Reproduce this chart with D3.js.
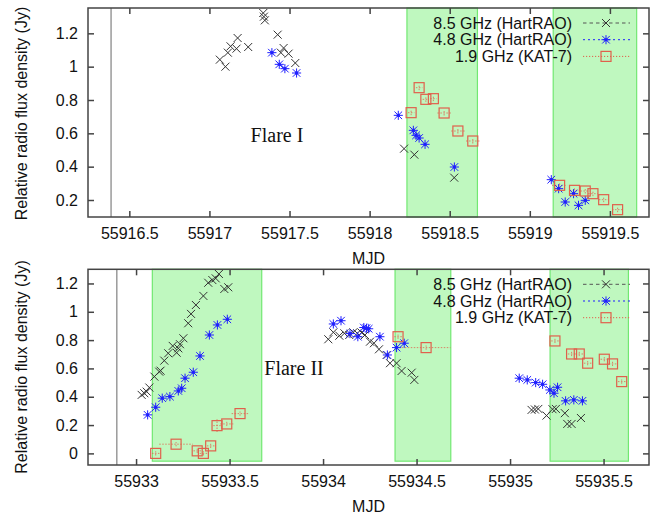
<!DOCTYPE html>
<html><head><meta charset="utf-8">
<script src="https://cdn.jsdelivr.net/npm/d3@7"></script>
<style>body{margin:0;background:#fff}svg{display:block}</style>
</head><body>
<svg id="chart" width="659" height="515"></svg>
<script>
// ---------- DATA ----------
const seriesNames = ["8.5 GHz (HartRAO)", "4.8 GHz (HartRAO)", "1.9 GHz (KAT-7)"];

// Flare I (top panel): [MJD, flux]
const flare1_85 = [[55917.065,1.042],[55917.10,1.0],[55917.115,1.084],[55917.132,1.122],[55917.169,1.108],[55917.176,1.172],[55917.242,1.118],[55917.336,1.322],[55917.34,1.30],[55917.346,1.278],[55917.426,1.192],[55917.446,1.084],[55917.463,1.112],[55917.494,1.078],[55917.536,1.022],[55918.215,0.508],[55918.279,0.472],[55918.528,0.334]];
const flare1_48 = [[55917.39,1.084],[55917.436,1.014],[55917.471,0.988],[55917.544,0.962],[55918.179,0.708],[55918.273,0.618],[55918.29,0.588],[55918.309,0.572],[55918.346,0.534],[55918.529,0.398],[55919.134,0.322],[55919.18,0.268],[55919.221,0.188],[55919.273,0.238],[55919.304,0.168],[55919.346,0.198]];
const flare1_19 = [[55918.259,0.724],[55918.309,0.874],[55918.351,0.804],[55918.398,0.808],[55918.465,0.722],[55918.551,0.614],[55918.644,0.554],[55919.186,0.288],[55919.279,0.258],[55919.346,0.254],[55919.394,0.238],[55919.461,0.202],[55919.548,0.142]];
const flare1_19_xerr = [0.02,0.02,0.02,0.02,0.042,0.042,0.042,0.047,0.03,0.03,0.03,0.03,0.035];

// Flare II (bottom panel)
const flare2_85 = [[55933.030,0.413],[55933.044,0.425],[55933.057,0.436],[55933.071,0.465],[55933.098,0.542],[55933.124,0.577],[55933.131,0.584],[55933.151,0.655],[55933.172,0.707],[55933.196,0.759],[55933.217,0.711],[55933.226,0.742],[55933.235,0.771],[55933.253,0.813],[55933.279,0.919],[55933.294,0.985],[55933.320,1.048],[55933.360,1.112],[55933.386,1.205],[55933.408,1.224],[55933.426,1.236],[55933.443,1.267],[55933.472,1.161],[55933.493,1.173],
  [55934.028,0.806],[55934.055,0.855],[55934.087,0.831],[55934.114,0.848],[55934.140,0.836],[55934.162,0.855],[55934.183,0.848],[55934.206,0.853],[55934.224,0.836],[55934.251,0.789],[55934.272,0.778],[55934.299,0.735],[55934.340,0.695],[55934.358,0.637],[55934.393,0.637],[55934.420,0.582],[55934.474,0.570],[55934.488,0.519],
  [55935.115,0.307],[55935.133,0.310],[55935.151,0.314],[55935.195,0.267],[55935.227,0.312],[55935.245,0.314],[55935.293,0.284],[55935.306,0.208],[55935.329,0.208],[55935.379,0.250]];
const flare2_48 = [[55933.062,0.272],[55933.105,0.326],[55933.140,0.390],[55933.181,0.401],[55933.226,0.441],[55933.244,0.460],[55933.262,0.531],[55933.306,0.573],[55933.342,0.688],[55933.392,0.836],[55933.435,0.907],[55933.488,0.947],
  [55934.055,0.914],[55934.096,0.937],[55934.144,0.846],[55934.186,0.824],[55934.218,0.889],[55934.232,0.884],[55934.244,0.880],[55934.304,0.824],[55934.344,0.695],[55934.393,0.747],[55934.434,0.778],
  [55935.049,0.531],[55935.092,0.519],[55935.137,0.500],[55935.174,0.488],[55935.213,0.448],[55935.235,0.425],[55935.254,0.467],[55935.297,0.371],[55935.341,0.378],[55935.387,0.371]];
const flare2_19 = [[55933.105,0.0],[55933.214,0.065],[55933.327,0.018],[55933.360,0.0],[55933.399,0.053],[55933.433,0.196],[55933.485,0.208],[55933.556,0.281],
  [55934.401,0.824],[55934.551,0.747],
  [55935.240,0.794],[55935.329,0.702],[55935.370,0.702],[55935.415,0.637],[55935.504,0.665],[55935.548,0.632],[55935.597,0.507]];
const flare2_19_xerr = [0.02,0.09,0.02,0.02,0.02,0.02,0.035,0.045,0.02,0.13,0.02,0.02,0.02,0.02,0.02,0.02,0.02];
const flare2_19_yerr = [0.015,0.015,0.015,0.015,0.015,0.045,0.015,0.015,0.015,0.015,0.015,0.015,0.015,0.015,0.015,0.015,0.015];

// shaded intervals and marker lines
const flare1Bands = [[55918.233,55918.673],[55919.146,55919.667]];
const flare2Bands = [[55933.087,55933.672],[55934.385,55934.683],[55935.214,55935.633]];
const flare1Marker = 55916.386;
const flare2Marker = 55932.897;

// axes
const flare1XDomain = [55916.242, 55919.744];
const flare1YDomain = [0.098, 1.352];
const flare2XDomain = [55932.743, 55935.743];
const flare2YDomain = [-0.082, 1.30];
const flare1XTicks = [55916.5,55917,55917.5,55918,55918.5,55919,55919.5];
const flare1YTicks = [0.2,0.4,0.6,0.8,1,1.2];
const flare2XTicks = [55933,55933.5,55934,55934.5,55935,55935.5];
const flare2YTicks = [0,0.2,0.4,0.6,0.8,1,1.2];

// ---------- DRAW ----------
const svg = d3.select("#chart");
const FONT = "'Liberation Sans', Arial, Helvetica, sans-serif";
const C85 = "#333333", C48 = "#1f1fff", C19 = "#e0604c";

function drawCross(g, x, y, s, color) {
  g.append("path").attr("d", `M${x-s},${y-s}L${x+s},${y+s}M${x-s},${y+s}L${x+s},${y-s}`)
    .attr("stroke", color).attr("stroke-width", 1).attr("fill", "none");
}
function drawStar(g, x, y, s, color) {
  g.append("path").attr("d", `M${x-s},${y-s}L${x+s},${y+s}M${x-s},${y+s}L${x+s},${y-s}M${x-s*1.2},${y}L${x+s*1.2},${y}M${x},${y-s*1.2}L${x},${y+s*1.2}`)
    .attr("stroke", color).attr("stroke-width", 1).attr("fill", "none");
  g.append("rect").attr("x", x-1.5).attr("y", y-1.5).attr("width", 3).attr("height", 3).attr("fill", color);
}
function drawSquare(g, x, y, s, color) {
  g.append("rect").attr("x", x-s).attr("y", y-s).attr("width", 2*s).attr("height", 2*s)
    .attr("stroke", color).attr("stroke-width", 1.2).attr("fill", "none");
}

function panel(cfg) {
  const x = d3.scaleLinear().domain(cfg.xDomain).range([cfg.left, cfg.right]);
  const y = d3.scaleLinear().domain(cfg.yDomain).range([cfg.bottom, cfg.top]);
  const g = svg.append("g");

  // bands
  cfg.bands.forEach(b => {
    const y0 = y(Math.max(cfg.bandLow, cfg.yDomain[0]));
    g.append("rect").attr("x", x(b[0])).attr("y", cfg.top)
      .attr("width", x(b[1]) - x(b[0])).attr("height", y0 - cfg.top)
      .attr("fill", "#bff8bf").attr("stroke", "#72e872").attr("stroke-width", 1.2);
  });
  // marker line
  g.append("line").attr("x1", x(cfg.marker)).attr("x2", x(cfg.marker))
    .attr("y1", cfg.top).attr("y2", cfg.bottom).attr("stroke", "#9a9a9a").attr("stroke-width", 1.5);

  // red error bars
  cfg.d19.forEach((d, i) => {
    const xe = cfg.xerr[i], ye = cfg.yerr ? cfg.yerr[i] : 0.015;
    g.append("line").attr("x1", x(d[0]-xe)).attr("x2", x(d[0]+xe)).attr("y1", y(d[1])).attr("y2", y(d[1]))
      .attr("stroke", C19).attr("stroke-width", 1).attr("stroke-dasharray", "1.5,1.5").attr("opacity", 0.75);
    g.append("line").attr("x1", x(d[0])).attr("x2", x(d[0])).attr("y1", y(d[1]-ye)).attr("y2", y(d[1]+ye))
      .attr("stroke", C19).attr("stroke-width", 1).attr("stroke-dasharray", "1.5,1.5").attr("opacity", 0.75);
  });
  cfg.d85.forEach(d => drawCross(g, x(d[0]), y(d[1]), 4, C85));
  cfg.d48.forEach(d => drawStar(g, x(d[0]), y(d[1]), 3.8, C48));
  cfg.d19.forEach(d => drawSquare(g, x(d[0]), y(d[1]), 5, C19));

  // frame
  g.append("rect").attr("x", cfg.left).attr("y", cfg.top).attr("width", cfg.right - cfg.left)
    .attr("height", cfg.bottom - cfg.top).attr("fill", "none").attr("stroke", "#444").attr("stroke-width", 1.5);

  const styleAxis = sel => {
    sel.select(".domain").remove();
    sel.selectAll(".tick line").attr("stroke", "#444").attr("stroke-width", 1.5);
    sel.selectAll("text").attr("font-family", FONT).attr("font-size", 16).attr("fill", "#111");
  };
  g.append("g").attr("transform", `translate(0,${cfg.bottom})`)
    .call(d3.axisBottom(x).tickValues(cfg.xTicks).tickSize(-6).tickPadding(11).tickFormat(d => String(d))).call(styleAxis);
  g.append("g").attr("transform", `translate(0,${cfg.top})`)
    .call(d3.axisTop(x).tickValues(cfg.xTicks).tickSize(-6).tickFormat("")).call(styleAxis);
  g.append("g").attr("transform", `translate(${cfg.left},0)`)
    .call(d3.axisLeft(y).tickValues(cfg.yTicks).tickSize(-6).tickPadding(10).tickFormat(d => String(d))).call(styleAxis);
  g.append("g").attr("transform", `translate(${cfg.right},0)`)
    .call(d3.axisRight(y).tickValues(cfg.yTicks).tickSize(-6).tickFormat("")).call(styleAxis);

  // labels
  g.append("text").attr("x", (cfg.left + cfg.right) / 2).attr("y", cfg.bottom + 47).attr("text-anchor", "middle")
    .attr("font-family", FONT).attr("font-size", 16).attr("fill", "#111").text("MJD");
  g.append("text").attr("transform", `translate(27,${cfg.ylabelY}) rotate(-90)`).attr("text-anchor", "middle")
    .attr("font-family", FONT).attr("font-size", 16).attr("fill", "#111").text("Relative radio flux density (Jy)");
  g.append("text").attr("x", cfg.flareX).attr("y", cfg.flareY).attr("text-anchor", "middle")
    .attr("font-family", "'Liberation Serif', 'Times New Roman', serif").attr("font-size", 20).attr("fill", "#111").text(cfg.flareLabel);

  // legend
  const styles = [
    {c: "#555", dash: "3.5,3", m: drawCross, mc: C85, s: 4},
    {c: C48, dash: "2,3", m: drawStar, mc: C48, s: 3.8},
    {c: C19, dash: "1.2,1.8", m: drawSquare, mc: C19, s: 5}
  ];
  seriesNames.forEach((name, i) => {
    const yy = cfg.legendY + i * 16.7;
    g.append("text").attr("x", 572).attr("y", yy + 5.5).attr("text-anchor", "end")
      .attr("font-family", FONT).attr("font-size", 16).attr("fill", "#111").text(name);
    g.append("line").attr("x1", 583).attr("x2", 630).attr("y1", yy).attr("y2", yy)
      .attr("stroke", styles[i].c).attr("stroke-width", 1).attr("stroke-dasharray", styles[i].dash);
    styles[i].m(g, 606, yy, styles[i].s, styles[i].mc);
  });
}

panel({
  left: 88, right: 649, top: 8, bottom: 217,
  xDomain: flare1XDomain, yDomain: flare1YDomain, xTicks: flare1XTicks, yTicks: flare1YTicks,
  bands: flare1Bands, bandLow: 0.098, marker: flare1Marker,
  d85: flare1_85, d48: flare1_48, d19: flare1_19, xerr: flare1_19_xerr, yerr: null,
  ylabelY: 113.5, flareLabel: "Flare I", flareX: 277, flareY: 142, legendY: 23
});
panel({
  left: 88, right: 649, top: 269.3, bottom: 465,
  xDomain: flare2XDomain, yDomain: flare2YDomain, xTicks: flare2XTicks, yTicks: flare2YTicks,
  bands: flare2Bands, bandLow: -0.055, marker: flare2Marker,
  d85: flare2_85, d48: flare2_48, d19: flare2_19, xerr: flare2_19_xerr, yerr: flare2_19_yerr,
  ylabelY: 367, flareLabel: "Flare II", flareX: 294, flareY: 375, legendY: 284.3
});
</script>
</body></html>
